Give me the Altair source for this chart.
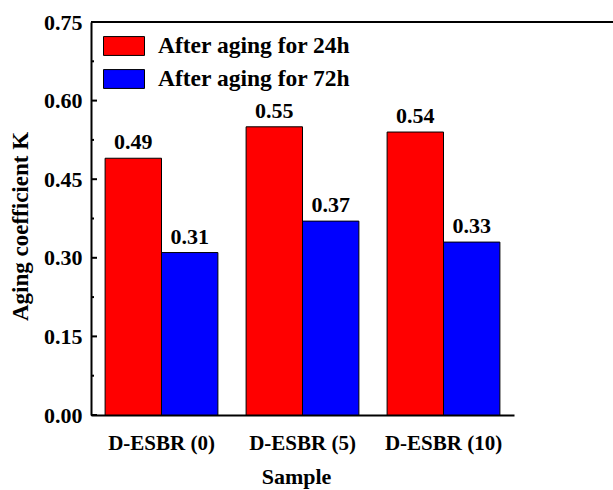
import altair as alt
import pandas as pd

# Aging coefficient K of each sample after 24 h and 72 h of aging
samples = ["D-ESBR (0)", "D-ESBR (5)", "D-ESBR (10)"]
k_24h = [0.49, 0.55, 0.54]
k_72h = [0.31, 0.37, 0.33]
series = ["After aging for 24h", "After aging for 72h"]
colors = ["#ff0000", "#0000ff"]
y_major = [0.0, 0.15, 0.30, 0.45, 0.60, 0.75]
y_minor = [0.075, 0.225, 0.375, 0.525, 0.675]

rows = []
for s, a, b in zip(samples, k_24h, k_72h):
    rows.append({"Sample": s, "Series": series[0], "K": a})
    rows.append({"Sample": s, "Series": series[1], "K": b})
df = pd.DataFrame(rows)

ticks_df = pd.DataFrame(
    [{"K": v, "kind": "major"} for v in y_major] + [{"K": v, "kind": "minor"} for v in y_minor]
)

FONT = "Liberation Serif"
W, H = 522, 393
y_scale = alt.Scale(domain=[0, 0.75], nice=False, zero=True)

x_enc = alt.X(
    "Sample:N",
    sort=samples,
    scale=alt.Scale(range=[0, 423], paddingInner=0, paddingOuter=0),
    axis=alt.Axis(
        title="Sample",
        labelAngle=0,
        ticks=False,
        domainWidth=2,
        domainColor="black",
        labelFont=FONT,
        labelFontSize=21,
        labelFontWeight="bold",
        labelColor="black",
        labelPadding=17,
        titleFont=FONT,
        titleFontSize=22,
        titleFontWeight="bold",
        titleColor="black",
        titlePadding=13,
        titleX=205,
    ),
)

xoff_enc = alt.XOffset(
    "Series:N",
    sort=series,
    scale=alt.Scale(paddingInner=0, paddingOuter=0.25),
)

y_enc = alt.Y(
    "K:Q",
    scale=y_scale,
    axis=alt.Axis(
        title="Aging coefficient K",
        values=y_major,
        format=".2f",
        grid=False,
        ticks=False,
        domainWidth=2,
        domainColor="black",
        labelPadding=9,
        labelFont=FONT,
        labelFontSize=22,
        labelFontWeight="bold",
        labelColor="black",
        titleFont=FONT,
        titleFontSize=23,
        titleFontWeight="bold",
        titleColor="black",
        titlePadding=11,
        titleY=204,
    ),
)

color_enc = alt.Color(
    "Series:N",
    sort=series,
    scale=alt.Scale(domain=series, range=colors),
    legend=alt.Legend(
        title=None,
        orient="none",
        legendX=12,
        legendY=3,
        padding=0,
        rowPadding=-13,
        symbolType="M-1,-0.46L1,-0.46L1,0.46L-1,0.46Z",
        symbolSize=1681,
        symbolStrokeColor="black",
        symbolStrokeWidth=1,
        symbolOpacity=1,
        symbolOffset=0,
        labelFont=FONT,
        labelFontSize=23.5,
        labelFontWeight="bold",
        labelColor="black",
        labelOffset=13,
        labelLimit=400,
    ),
)

base = alt.Chart(df)

bars = base.mark_bar(stroke="black", strokeWidth=1, opacity=1).encode(
    x=x_enc, xOffset=xoff_enc, y=y_enc, color=color_enc
)

labels = base.mark_text(
    baseline="alphabetic", dy=-9, font=FONT, fontSize=22, fontWeight="bold", color="black"
).encode(
    x=alt.X("Sample:N", sort=samples),
    xOffset=alt.XOffset("Series:N", sort=series),
    y="K:Q",
    text=alt.Text("K:Q", format=".2f"),
)

# inward-pointing major and minor ticks on the value axis
major_ticks = alt.Chart(ticks_df).transform_filter("datum.kind === 'major'").mark_rule(
    color="black", strokeWidth=2
).encode(y=alt.Y("K:Q", scale=y_scale), x=alt.value(0), x2=alt.value(6))

minor_ticks = alt.Chart(ticks_df).transform_filter("datum.kind === 'minor'").mark_rule(
    color="black", strokeWidth=2
).encode(y=alt.Y("K:Q", scale=y_scale), x=alt.value(0), x2=alt.value(3))

top_frame = alt.Chart(df).mark_rule(color="black", strokeWidth=2).encode(
    x=alt.value(0), x2=alt.value(W), y=alt.value(0)
)

chart = (
    alt.layer(bars, labels, major_ticks, minor_ticks, top_frame)
    .properties(
        width=W,
        height=H,
        autosize=alt.AutoSizeParams(type="none"),
        padding={"left": 91, "top": 22, "right": 0, "bottom": 75},
        background="white",
    )
    .configure_view(stroke=None)
)

chart.save("out.html", embed_options={"renderer": "svg", "actions": False})
